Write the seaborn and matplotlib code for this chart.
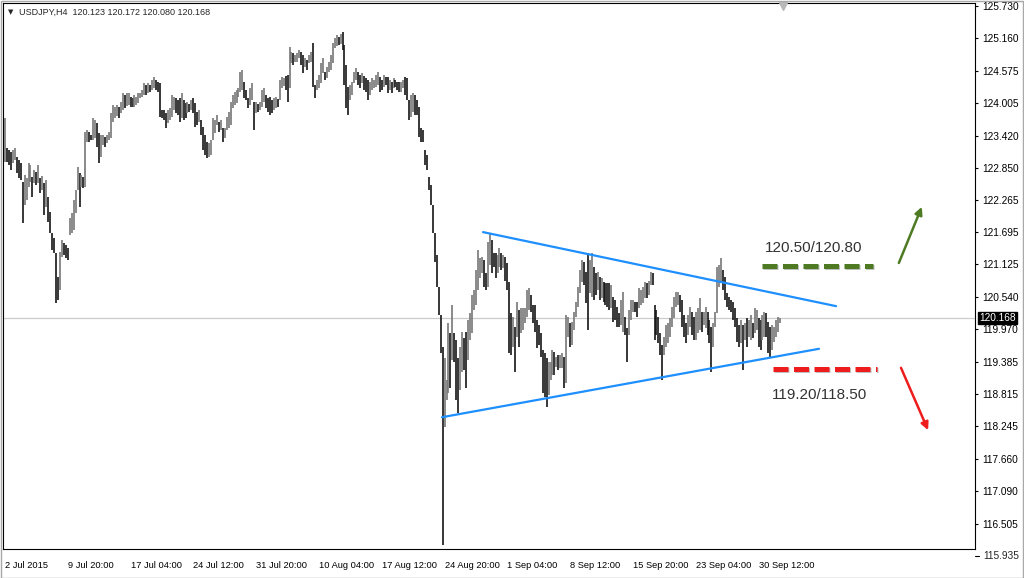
"""
USDJPY H4 - triangle consolidation after the August drop.
MT4-style bar chart redrawn with seaborn / matplotlib.
"""
import numpy as np
import pandas as pd
import matplotlib
matplotlib.use('Agg')
import matplotlib.pyplot as plt
import matplotlib.patheffects as pe
from matplotlib.patches import Rectangle
import seaborn as sns


# ──────────────────────────────────────────
# DATA (one value per H4 bar)
# ──────────────────────────────────────────

highs = [
    123.73, 123.20, 123.16, 123.13, 123.16, 123.20, 123.04, 122.99, 122.93, 122.59,
    122.72, 122.66, 122.93, 122.90, 122.68, 122.81, 122.77, 122.90, 122.66, 122.70,
    122.57, 122.63, 122.32, 122.06, 121.68, 121.59, 121.33, 120.90, 121.34, 121.56,
    121.50, 121.47, 121.42, 121.95, 122.04, 122.27, 122.45, 122.86, 122.75, 122.72,
    122.68, 123.48, 123.52, 123.48, 123.43, 123.73, 123.70, 123.64, 123.47, 123.43,
    123.43, 123.39, 123.43, 123.48, 123.82, 123.96, 123.93, 123.96, 123.93, 124.02,
    124.18, 124.14, 124.18, 124.18, 124.11, 124.09, 124.14, 124.11, 124.18, 124.18,
    124.23, 124.36, 124.32, 124.36, 124.32, 124.41, 124.46, 124.41, 124.38, 124.36,
    123.88, 123.88, 123.82, 123.88, 123.91, 124.14, 124.11, 124.09, 124.05, 124.09,
    124.18, 124.05, 124.00, 124.02, 123.98, 124.05, 124.09, 124.00, 123.84, 123.88,
    123.70, 123.57, 123.43, 123.31, 123.29, 123.34, 123.73, 123.70, 123.79, 123.66,
    123.70, 123.55, 123.55, 123.75, 123.84, 124.02, 124.14, 124.20, 124.23, 124.27,
    124.55, 124.59, 124.38, 124.23, 124.09, 124.27, 124.36, 124.02, 124.02, 123.98,
    124.02, 124.23, 124.27, 124.14, 124.09, 124.11, 124.05, 124.09, 124.11, 124.07,
    124.41, 124.46, 124.45, 124.48, 124.50, 125.00, 124.91, 124.89, 124.86, 124.89,
    124.95, 124.91, 124.86, 124.80, 124.77, 124.86, 124.91, 125.07, 124.32, 124.41,
    124.50, 124.71, 124.80, 124.55, 124.64, 124.73, 124.86, 125.07, 125.16, 125.21,
    125.18, 125.23, 125.27, 125.03, 124.68, 124.29, 124.32, 124.38, 124.55, 124.62,
    124.55, 124.50, 124.54, 124.48, 124.45, 124.41, 124.38, 124.45, 124.41, 124.50,
    124.55, 124.46, 124.41, 124.50, 124.46, 124.46, 124.41, 124.38, 124.45, 124.41,
    124.38, 124.38, 124.38, 124.41, 124.46, 124.45, 124.05, 124.14, 124.18, 124.14,
    124.05, 123.93, 123.55, 123.52, 123.16, 123.07, 122.68, 122.54, 122.18, 121.68,
    121.29, 120.72, 120.22, 119.65, 119.45, 119.06, 120.08, 119.90, 120.40, 119.90,
    119.78, 119.45, 119.65, 119.92, 119.81, 119.92, 120.13, 120.26, 120.58, 120.67,
    121.02, 121.38, 121.24, 121.26, 121.20, 120.97, 121.52, 121.68, 121.56, 121.33,
    121.33, 121.29, 121.42, 121.33, 121.29, 121.26, 121.15, 120.81, 120.26, 120.19,
    120.01, 120.45, 120.31, 120.35, 120.35, 120.35, 120.67, 120.70, 120.58, 120.40,
    120.40, 120.13, 120.04, 119.90, 119.60, 119.54, 119.45, 119.38, 119.38, 119.60,
    119.56, 119.47, 119.51, 119.51, 119.54, 119.47, 120.22, 120.19, 120.08, 120.10,
    120.27, 120.45, 120.72, 121.02, 121.20, 121.17, 120.99, 121.33, 121.20, 121.33,
    121.08, 120.97, 120.99, 120.90, 120.88, 120.81, 120.79, 120.79, 120.79, 120.76,
    120.54, 120.49, 120.36, 120.26, 120.49, 120.63, 120.19, 119.99, 120.31, 120.49,
    120.49, 120.45, 120.45, 120.70, 120.67, 120.72, 120.81, 120.79, 120.83, 120.99,
    120.97, 120.40, 120.31, 120.19, 119.90, 119.69, 119.83, 120.04, 120.08, 120.17,
    120.36, 120.54, 120.63, 120.63, 120.58, 120.49, 120.22, 120.08, 120.22, 120.36,
    120.27, 120.19, 120.27, 120.35, 120.52, 120.27, 120.27, 120.36, 120.27, 120.13,
    120.01, 120.08, 120.27, 121.08, 121.11, 121.24, 121.02, 120.90, 120.61, 120.54,
    120.49, 120.45, 120.35, 120.17, 120.04, 120.13, 120.04, 120.08, 120.17, 120.13,
    120.22, 120.08, 120.35, 120.31, 120.17, 120.13, 120.22, 120.27, 120.26, 120.10,
    120.01, 120.04, 120.01, 120.13, 120.19, 120.17,
]

lows = [
    122.95, 122.95, 122.90, 122.81, 122.93, 122.99, 122.75, 122.66, 122.63, 121.86,
    122.18, 122.27, 122.50, 122.59, 122.32, 122.57, 122.54, 122.57, 122.40, 122.45,
    122.00, 122.15, 121.88, 121.68, 121.38, 121.33, 120.44, 120.49, 120.67, 121.26,
    121.29, 121.24, 121.20, 121.65, 121.68, 121.74, 122.04, 122.45, 122.15, 122.50,
    122.49, 122.50, 123.31, 123.31, 123.34, 123.34, 123.38, 123.22, 122.93, 123.04,
    123.25, 123.22, 123.29, 123.34, 123.38, 123.66, 123.73, 123.77, 123.73, 123.82,
    123.88, 123.91, 123.95, 123.96, 123.93, 123.93, 123.93, 123.96, 124.00, 124.09,
    124.11, 124.14, 124.14, 124.18, 124.20, 124.23, 124.27, 124.23, 124.20, 123.75,
    123.73, 123.70, 123.55, 123.64, 123.70, 123.75, 123.88, 123.82, 123.79, 123.66,
    123.73, 123.70, 123.73, 123.82, 123.84, 123.88, 123.82, 123.57, 123.61, 123.66,
    123.43, 123.16, 123.07, 123.02, 123.04, 123.07, 123.34, 123.47, 123.61, 123.48,
    123.52, 123.31, 123.38, 123.52, 123.55, 123.61, 123.91, 123.96, 124.00, 124.11,
    124.20, 124.23, 124.09, 124.05, 123.91, 123.96, 124.05, 123.52, 123.82, 123.84,
    123.88, 123.93, 124.02, 123.91, 123.84, 123.79, 123.82, 123.88, 123.91, 123.93,
    124.05, 124.27, 124.30, 124.23, 124.02, 124.27, 124.71, 124.68, 124.73, 124.73,
    124.80, 124.68, 124.54, 124.64, 124.59, 124.71, 124.73, 124.29, 124.09, 124.23,
    124.27, 124.36, 124.54, 124.41, 124.45, 124.55, 124.59, 124.71, 124.98, 125.02,
    125.03, 125.05, 124.95, 124.32, 123.91, 123.79, 124.05, 124.14, 124.36, 124.41,
    124.32, 124.27, 124.36, 124.23, 124.20, 124.05, 124.14, 124.23, 124.27, 124.29,
    124.32, 124.20, 124.23, 124.29, 124.32, 124.18, 124.23, 124.18, 124.27, 124.29,
    124.23, 124.20, 124.20, 124.27, 124.14, 124.05, 123.70, 123.75, 123.84, 123.79,
    123.79, 123.39, 123.31, 123.31, 122.90, 122.81, 122.45, 122.18, 121.68, 121.17,
    120.72, 120.22, 119.54, 116.12, 118.22, 118.70, 118.83, 118.92, 119.42, 119.38,
    118.70, 118.47, 118.88, 119.20, 119.24, 118.92, 119.42, 119.78, 119.90, 120.31,
    120.40, 120.67, 120.88, 120.97, 120.72, 120.67, 120.72, 121.11, 120.97, 121.08,
    120.88, 120.97, 121.08, 121.02, 121.06, 120.83, 120.67, 119.54, 119.51, 119.65,
    119.20, 119.83, 119.65, 119.90, 119.95, 120.08, 120.19, 120.31, 120.27, 120.08,
    119.92, 119.63, 119.69, 119.47, 118.83, 118.76, 118.58, 118.79, 119.06, 119.15,
    119.15, 119.29, 119.24, 119.28, 119.28, 118.92, 119.01, 119.83, 119.65, 119.69,
    119.95, 120.19, 120.36, 120.61, 120.81, 120.76, 120.44, 119.95, 120.61, 120.54,
    120.49, 120.58, 120.67, 120.49, 120.52, 120.45, 120.40, 120.36, 120.31, 120.35,
    120.10, 120.13, 120.01, 120.01, 120.04, 119.92, 119.86, 119.38, 119.86, 120.13,
    120.27, 120.27, 120.19, 120.35, 120.40, 120.44, 120.52, 120.52, 120.58, 120.76,
    120.76, 119.78, 119.86, 119.72, 119.51, 119.06, 119.51, 119.65, 119.72, 119.83,
    120.01, 120.17, 120.36, 120.40, 120.27, 120.01, 119.83, 119.72, 119.86, 120.01,
    119.86, 119.78, 119.78, 119.90, 119.95, 119.92, 120.04, 119.99, 119.86, 119.72,
    119.20, 119.65, 120.01, 120.26, 120.72, 120.79, 120.67, 120.49, 120.36, 120.31,
    120.27, 120.13, 120.01, 119.74, 119.65, 119.72, 119.24, 119.78, 119.65, 119.83,
    119.78, 119.81, 119.90, 119.95, 119.65, 119.60, 119.78, 119.83, 119.83, 119.54,
    119.47, 119.60, 119.74, 119.83, 119.92, 120.08,
]

# time scale: one label every 32 bars
time_labels = ['2 Jul 2015', '9 Jul 20:00', '17 Jul 04:00', '24 Jul 12:00',
               '31 Jul 20:00', '10 Aug 04:00', '17 Aug 12:00', '24 Aug 20:00',
               '1 Sep 04:00', '8 Sep 12:00', '15 Sep 20:00', '23 Sep 04:00',
               '30 Sep 12:00']
price_ticks = [125.730, 125.160, 124.575, 124.005, 123.420, 122.850, 122.265,
               121.695, 121.125, 120.540, 119.970, 119.385, 118.815, 118.245,
               117.660, 117.090, 116.505, 115.935]
header = 'USDJPY,H4  120.123 120.172 120.080 120.168'
last_price = 120.168

# triangle (bar index, price)
upper_x = [243.6, 423.5]
upper_y = [121.70, 120.38]
lower_x = [222.7, 414.8]
lower_y = [118.40, 119.62]

# breakout levels
resist_x = [385.7, 442.3]
resist_y = 121.10
resist_label = '120.50/120.80'
resist_label_pos = (412.2, 121.42)
support_x = [391.4, 444.3]
support_y = 119.26
support_label = '119.20/118.50'
support_label_pos = (415.3, 118.80)

up_arrow = [(455.5, 121.15), (467.2, 122.15)]
down_arrow = [(456.6, 119.28), (470.4, 118.17)]


# ──────────────────────────────────────────
# FIGURE
# ──────────────────────────────────────────

sns.set_style('white')
plt.rcParams['font.family'] = ['Liberation Sans', 'DejaVu Sans']

df = pd.DataFrame({'high': highs, 'low': lows})
df['bar'] = np.arange(len(df))
mid = (df['high'] + df['low']) / 2
df['color'] = np.where(mid.diff().fillna(0) >= 0, '#777777', '#151515')

W, H = 1024, 578
fig = plt.figure(figsize=(W / 100, H / 100), dpi=100)
fig.patch.set_facecolor('white')
ax = fig.add_axes([3 / W, 1 - 549 / H, 972 / W, 546 / H])

ax.set_xlim(-1.0, 494.3)
ax.set_ylim(116.051, 125.784)

# current price line
ax.axhline(last_price, color='#cccccc', lw=0.9, zorder=1)

# OHLC bars
ax.vlines(df['bar'], df['low'], df['high'], colors=df['color'], lw=1.2, zorder=2)

# triangle
sns.lineplot(x=upper_x, y=upper_y, ax=ax, color='#1e8fff', lw=1.6, zorder=3)
sns.lineplot(x=lower_x, y=lower_y, ax=ax, color='#1e8fff', lw=1.6, zorder=3)

# breakout levels
shadow = [pe.SimpleLineShadow(offset=(0.8, -0.8), alpha=0.25), pe.Normal()]
ax.plot(resist_x, [resist_y] * 2, color='#4d7a23', lw=3.6, dashes=(3, 1.1),
        dash_capstyle='butt', path_effects=shadow, zorder=4)
ax.plot(support_x, [support_y] * 2, color='#ee1c1c', lw=3.6, dashes=(3, 1.1),
        dash_capstyle='butt', path_effects=shadow, zorder=4)
ax.text(*resist_label_pos, resist_label, ha='center', va='center',
        fontsize=11, color='#333333')
ax.text(*support_label_pos, support_label, ha='center', va='center',
        fontsize=11, color='#333333')

ax.annotate('', xy=up_arrow[1], xytext=up_arrow[0],
            arrowprops=dict(arrowstyle='-|>', color='#4d7a23', lw=1.8,
                            mutation_scale=11, shrinkA=0, shrinkB=0))
ax.annotate('', xy=down_arrow[1], xytext=down_arrow[0],
            arrowprops=dict(arrowstyle='-|>', color='#ee1c1c', lw=1.8,
                            mutation_scale=11, shrinkA=0, shrinkB=0))

# price scale on the right
ymin, ymax = ax.get_ylim()
inside = [t for t in price_ticks if ymin <= t <= ymax]
ax.yaxis.tick_right()
ax.set_yticks(inside)
ax.set_yticklabels([f'{t:.3f}' for t in inside])
ax.tick_params(axis='y', direction='out', length=2.5, width=0.8, pad=3,
               labelsize=7.3, colors='black')
ytr = ax.get_yaxis_transform()
for t in price_ticks:
    if t < ymin:
        ax.plot([1.0, 1.0 + 3.5 / 972], [t, t], transform=ytr, color='black',
                lw=0.8, clip_on=False)
        ax.text(1.0 + 8 / 972, t, f'{t:.3f}', transform=ytr, ha='left',
                va='center', fontsize=7.3, clip_on=False)
ax.text(1.0 + 4 / 972, last_price, f'{last_price:.3f}', transform=ytr,
        ha='left', va='center', fontsize=7.3, color='white', zorder=6,
        bbox=dict(boxstyle='square,pad=0.12', fc='black', ec='black'))

# time scale
ax.set_xticks(np.arange(len(time_labels)) * 32)
ax.set_xticklabels(time_labels, ha='left')
ax.tick_params(axis='x', direction='out', length=3, width=0.8, pad=5.5,
               labelsize=6.7, colors='black')

for s in ax.spines.values():
    s.set_color('black')
    s.set_linewidth(0.8)
ax.set_xlabel('')
ax.set_ylabel('')
ax.grid(False)

# chart shift marker and header
ax.plot([len(df) + 0.5], [0.995], transform=ax.get_xaxis_transform(),
        marker='v', ms=6, color='#b8b8b8', clip_on=False, zorder=5)
fig.text(8 / W, 1 - 12 / H, '▼', fontsize=5, va='center', ha='left',
         family=['DejaVu Sans'])
fig.text(19 / W, 1 - 12 / H, header, fontsize=6.5, va='center', ha='left')

fig.patches.append(Rectangle((0.5 / W, 0.5 / H), 1 - 1.5 / W, 1 - 1.5 / H,
                             transform=fig.transFigure, fill=False,
                             edgecolor='#a8a8a8', lw=1))

fig.savefig('out.png', dpi=100)
